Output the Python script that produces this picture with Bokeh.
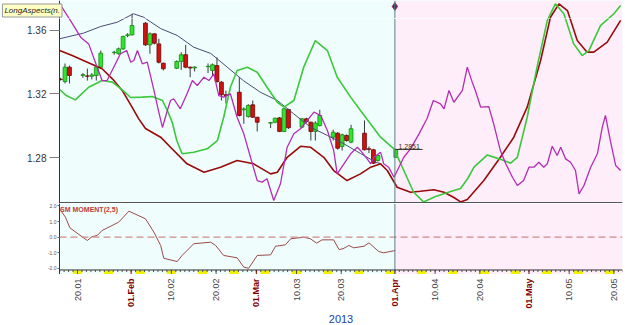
import math
import pandas as pd
from bokeh.plotting import figure
from bokeh.layouts import column
from bokeh.models import (Range1d, Span, BoxAnnotation, Label, FixedTicker,
                          ColumnDataSource, NumeralTickFormatter)
from bokeh.core.properties import value
from bokeh.embed import file_html
from bokeh.resources import INLINE

# ---------------- data ----------------
origin = "2013-01-20"   # day 0 of the day-offset arrays

candle_dates = ["2013-01-16", "2013-01-17", "2013-01-18", "2013-01-21", "2013-01-22", "2013-01-23",
                "2013-01-24", "2013-01-25", "2013-01-28", "2013-01-29", "2013-01-30", "2013-01-31",
                "2013-02-01", "2013-02-04", "2013-02-05", "2013-02-06", "2013-02-07", "2013-02-08",
                "2013-02-11", "2013-02-12", "2013-02-13", "2013-02-14", "2013-02-15", "2013-02-18",
                "2013-02-19", "2013-02-20", "2013-02-21", "2013-02-22", "2013-02-25", "2013-02-26",
                "2013-02-27", "2013-02-28", "2013-03-01", "2013-03-04", "2013-03-05", "2013-03-06",
                "2013-03-07", "2013-03-08", "2013-03-11", "2013-03-12", "2013-03-13", "2013-03-14",
                "2013-03-15", "2013-03-18", "2013-03-19", "2013-03-20", "2013-03-21", "2013-03-22",
                "2013-03-25", "2013-03-26", "2013-03-27", "2013-03-28", "2013-04-01"]
candle_open = [1.3292, 1.3277, 1.3367, 1.3315, 1.3312, 1.3310, 1.3315, 1.3367, 1.3458, 1.3451, 1.3482, 1.3565,
               1.3570, 1.3643, 1.3507, 1.3576, 1.3513, 1.3392, 1.3360, 1.3402, 1.3445, 1.3367, 1.3362, 1.3370,
               1.3346, 1.3377, 1.3273, 1.3194, 1.3210, 1.3100, 1.3058, 1.3131, 1.3053, 1.3016, 1.3022, 1.3049,
               1.2964, 1.3102, 1.2991, 1.3043, 1.3022, 1.2964, 1.3001, 1.2928, 1.2953, 1.2870, 1.2939, 1.2897,
               1.2953, 1.2855, 1.2849, 1.2782, 1.2802]
candle_high = [1.3300, 1.3390, 1.3377, 1.3330, 1.3358, 1.3330, 1.3370, 1.3471, 1.3470, 1.3490, 1.3565, 1.3580,
               1.3702, 1.3650, 1.3585, 1.3580, 1.3545, 1.3395, 1.3410, 1.3461, 1.3507, 1.3370, 1.3372, 1.3390,
               1.3390, 1.3429, 1.3280, 1.3220, 1.3304, 1.3115, 1.3135, 1.3158, 1.3055, 1.3022, 1.3050, 1.3055,
               1.3110, 1.3106, 1.3048, 1.3050, 1.3025, 1.3028, 1.3100, 1.2975, 1.2960, 1.2950, 1.2945, 1.3005,
               1.3033, 1.2870, 1.2855, 1.2820, 1.2855]
candle_low = [1.3283, 1.3265, 1.3265, 1.3300, 1.3283, 1.3290, 1.3283, 1.3357, 1.3445, 1.3445, 1.3475, 1.3555,
              1.3565, 1.3500, 1.3451, 1.3510, 1.3390, 1.3346, 1.3355, 1.3350, 1.3360, 1.3304, 1.3340, 1.3330,
              1.3315, 1.3270, 1.3158, 1.3139, 1.3058, 1.3012, 1.3050, 1.3050, 1.2964, 1.2985, 1.3015, 1.2960,
              1.2960, 1.2980, 1.2985, 1.3015, 1.2907, 1.2907, 1.2995, 1.2907, 1.2850, 1.2844, 1.2900, 1.2890,
              1.2845, 1.2828, 1.2760, 1.2775, 1.2798]
candle_close = [1.3290, 1.3367, 1.3315, 1.3320, 1.3310, 1.3318, 1.3367, 1.3455, 1.3461, 1.3482, 1.3559, 1.3570,
                1.3628, 1.3507, 1.3576, 1.3517, 1.3398, 1.3357, 1.3402, 1.3445, 1.3367, 1.3362, 1.3368, 1.3372,
                1.3382, 1.3277, 1.3194, 1.3190, 1.3064, 1.3105, 1.3127, 1.3053, 1.3022, 1.3020, 1.3047, 1.2964,
                1.3106, 1.2987, 1.3043, 1.3026, 1.2964, 1.3016, 1.3064, 1.2959, 1.2859, 1.2943, 1.2907, 1.2981,
                1.2849, 1.2852, 1.2765, 1.2813, 1.2851]

upper_day = [-4.0, 1.3, 5.2, 8.9, 12.5, 14.8, 18.6, 22.3, 26.0, 29.8, 33.5, 37.1, 40.9, 44.7, 48.3,
             52.1, 55.9, 59.5, 63.3, 66.7, 67.8]
upper_val = [1.3545, 1.3580, 1.3622, 1.3649, 1.3702, 1.3680, 1.3609, 1.3566, 1.3492, 1.3453, 1.3367,
             1.3283, 1.3210, 1.3158, 1.3076, 1.2991, 1.2939, 1.2888, 1.2826, 1.2771, 1.2763]

green_day = [-4.0, -2.5, -0.5, 2.5, 5.5, 7.8, 10.0, 11.9, 14.5, 16.7, 19.0, 20.1, 21.2, 22.2, 23.4, 26.0,
             29.0, 31.3, 32.7, 34.2, 35.7, 38.0, 40.2, 42.4, 44.7, 46.2, 48.4, 50.6, 53.2, 55.9, 58.1, 61.1,
             63.3, 67.8, 70.8, 73.0, 75.2, 77.4, 80.1, 83.5, 85.7, 87.3, 88.7, 91.7, 94.3, 96.9, 98.4, 100.6,
             102.8, 105.1, 106.9, 108.8, 111.0, 112.9, 114.4, 117.0, 120.0, 121.5]
green_val = [1.3227, 1.3189, 1.3162, 1.3241, 1.3283, 1.3273, 1.3225, 1.3177, 1.3179, 1.3183, 1.3158, 1.3095,
             1.3020, 1.2907, 1.2824, 1.2834, 1.2855, 1.2907, 1.3053, 1.3241, 1.3346, 1.3367, 1.3335, 1.3241,
             1.3147, 1.3116, 1.3158, 1.3367, 1.3534, 1.3471, 1.3304, 1.3179, 1.3095, 1.2928, 1.2855, 1.2719,
             1.2583, 1.2522, 1.2556, 1.2587, 1.2606, 1.2669, 1.2740, 1.2817, 1.2792, 1.2765, 1.2802, 1.3053,
             1.3367, 1.3660, 1.3764, 1.3702, 1.3513, 1.3440, 1.3471, 1.3628, 1.3702, 1.3754]

red_day = [-4.0, -1.2, 2.2, 5.5, 7.8, 10.0, 12.2, 13.7, 15.2, 18.6, 20.8, 24.5, 28.3, 32.0, 35.7, 39.4,
           43.2, 44.7, 46.9, 49.9, 52.1, 55.1, 57.3, 60.3, 63.3, 65.6, 67.8, 69.3, 71.5, 74.5, 76.7, 79.7,
           82.0, 84.2, 85.7, 87.2, 90.9, 94.6, 97.6, 100.6, 103.6, 105.8, 107.7, 109.6, 111.8, 114.0, 115.5,
           118.5, 121.5]
red_val = [1.3471, 1.3440, 1.3398, 1.3357, 1.3294, 1.3221, 1.3116, 1.3043, 1.2982, 1.2928, 1.2865, 1.2761,
           1.2708, 1.2740, 1.2782, 1.2761, 1.2698, 1.2708, 1.2802, 1.2871, 1.2865, 1.2802, 1.2719, 1.2656,
           1.2698, 1.2740, 1.2761, 1.2719, 1.2614, 1.2583, 1.2589, 1.2598, 1.2583, 1.2550, 1.2522, 1.2537,
           1.2656, 1.2802, 1.2928, 1.3116, 1.3409, 1.3680, 1.3764, 1.3722, 1.3534, 1.3461, 1.3461, 1.3524,
           1.3660]

magenta_day = [-4.0, -1.6, 0.7, 2.5, 4.4, 5.5, 6.6, 8.1, 9.6, 11.0,
               11.9, 12.6, 13.4, 14.5, 15.6, 17.1, 18.1, 19.0, 20.1, 20.8,
               21.5, 23.0, 24.5, 25.7, 26.8, 28.3, 29.4, 30.5, 31.6, 32.7,
               34.2, 35.7, 37.2, 38.7, 40.2, 41.3, 42.4, 43.9, 45.4, 46.9,
               48.4, 49.9, 51.4, 52.9, 54.4, 55.9, 57.3, 58.1, 59.6, 61.1,
               62.6, 63.3, 64.8, 65.6, 66.3, 67.8, 68.5, 69.6, 70.8, 71.9,
               73.0, 74.5, 76.4, 78.2, 79.6, 81.2, 82.0, 83.1, 84.2, 86.1,
               87.2, 88.3, 89.0, 90.2, 92.0, 93.1, 94.6, 95.8, 97.3, 98.4,
               99.8, 101.0, 102.1, 103.2, 104.3, 105.1, 106.2, 107.3, 108.1, 109.2,
               110.3, 111.4, 112.2, 113.3, 114.8, 116.3, 117.4, 118.1, 119.2, 120.4,
               121.5]
magenta_val = [1.3766, 1.3660, 1.3555, 1.3513, 1.3367, 1.3283, 1.3283, 1.3367, 1.3451, 1.3471,
               1.3398, 1.3409, 1.3471, 1.3388, 1.3398, 1.3221, 1.3095, 1.2989, 1.3095, 1.3158,
               1.3169, 1.3106, 1.3200, 1.3283, 1.3252, 1.3304, 1.3283, 1.3325, 1.3189, 1.3179,
               1.3200, 1.3053, 1.2949, 1.2802, 1.2656, 1.2646, 1.2667, 1.2531, 1.2636, 1.2865,
               1.2949, 1.2981, 1.3033, 1.3085, 1.3064, 1.2970, 1.2845, 1.2698, 1.2761, 1.2824,
               1.2865, 1.2845, 1.2792, 1.2761, 1.2802, 1.2834, 1.2761, 1.2740, 1.2677, 1.2740,
               1.2802, 1.2855, 1.2949, 1.3045, 1.3158, 1.3137, 1.3106, 1.3221, 1.3147, 1.3221,
               1.3367, 1.3273, 1.3221, 1.3116, 1.3120, 1.3012, 1.2844, 1.2761, 1.2677, 1.2625,
               1.2656, 1.2740, 1.2740, 1.2771, 1.2740, 1.2761, 1.2871, 1.2813, 1.2865, 1.2792,
               1.2771, 1.2719, 1.2573, 1.2625, 1.2740, 1.2824, 1.2991, 1.3064, 1.2907, 1.2750,
               1.2719]

mom_day = [-4.0, -2.7, -1.7, -0.1, 2.2, 3.3, 4.4, 5.5, 9.2, 11.5, 15.2, 17.1, 18.6, 19.3, 22.3, 23.4,
           26.0, 29.8, 30.9, 32.7, 35.7, 37.2, 38.3, 40.2, 43.2, 44.3, 46.5, 47.7, 50.6, 52.1, 53.5, 54.7,
           57.3, 58.5, 59.4, 60.7, 61.8, 64.1, 65.2, 67.4, 68.5, 71.1]
mom_val = [1.82, 1.28, 0.60, 0.26, -0.21, 0.04, 0.11, 0.43, 0.96, 1.67, 1.18, 0.32, -0.53, -1.35, -1.56,
           -1.17, -0.42, -0.32, -0.53, -1.17, -1.32, -1.92, -1.99, -1.17, -1.13, -0.58, -0.49, -0.10, 0.0,
           -0.10, -0.38, -0.17, -0.17, -0.79, -0.74, -0.53, -0.68, -0.58, -0.36, -0.92, -1.0, -0.85]

price_ticks = [1.28, 1.32, 1.36]
mom_ticks = [-2, -1, 0, 1, 2]
day_label_dates = ["2013-01-20", "2013-02-10", "2013-02-20", "2013-03-10", "2013-03-20",
                   "2013-04-10", "2013-04-20", "2013-05-10", "2013-05-20"]
month_label_dates = ["2013-02-01", "2013-03-01", "2013-04-01", "2013-05-01"]
split_date = "2013-04-01"
year_label = "2013"
caption = "LongAspects(n."
indicator_name = "SM MOMENT(2,5)"

# ---------------- helpers ----------------
DAY = 86400000.0
T0 = pd.Timestamp(origin)


def ms(ts):
    return pd.Timestamp(ts).value / 1e6


def days_to_ms(days):
    return [ms(T0) + d * DAY for d in days]


X_LEFT = ms(T0) - 4.03 * DAY          # left edge of the plotting area (price axis)
X_RIGHT = ms(T0) + 121.92 * DAY
x_range = Range1d(X_LEFT, X_RIGHT)
x_range_full = Range1d(ms(T0) - 17.23 * DAY, X_RIGHT)   # same scale, starting at the page edge

PX = 0.000627                    # price per pixel of the price panel
P_TOP = 1.3785
P_SPLIT = P_TOP - 18 * PX        # top strip holds the caption box
P_BOTTOM = P_TOP - 203 * PX

FONT = "Liberation Sans"
BG_LEFT = "#F0FDFD"
BG_RIGHT = "#FDEEFA"
VLINE = "#5E8088"


def base_fig(height, xr, y_range, left=59, **kw):
    f = figure(width=625, height=height, x_range=xr, y_range=y_range,
               x_axis_type="datetime", x_axis_location=None, output_backend="svg",
               toolbar_location=None, min_border_left=left, min_border_right=3,
               min_border_top=0, min_border_bottom=0, border_fill_color="white",
               outline_line_color=None, **kw)
    f.grid.visible = False
    return f


cx = [ms(d) + 0.2 * DAY for d in candle_dates]
up = [c >= o for o, c in zip(candle_open, candle_close)]
csrc = ColumnDataSource(dict(
    x=cx, high=candle_high, low=candle_low,
    top=[max(o, c) for o, c in zip(candle_open, candle_close)],
    bottom=[min(o, c) for o, c in zip(candle_open, candle_close)],
    fill=["#2FE62F" if u else "#D01212" for u in up],
    edge=["#138A13" if u else "#6E0000" for u in up],
))


def draw_price(f):
    f.add_layout(BoxAnnotation(left=ms(split_date), fill_color=BG_RIGHT, fill_alpha=1.0,
                               line_color=None, level="underlay"))
    f.segment(x0="x", y0="high", x1="x", y1="low", source=csrc, line_color="#3A3A3A", line_width=1)
    f.vbar(x="x", width=0.85 * DAY, top="top", bottom="bottom", source=csrc,
           fill_color="fill", line_color="edge", line_width=0.8)
    f.line(days_to_ms(upper_day), upper_val, line_color="#4B4B70", line_width=1)
    f.line(days_to_ms(red_day), red_val, line_color="#990A0A", line_width=1.6)
    f.line(days_to_ms(green_day), green_val, line_color="#3CC83C", line_width=1.6)
    f.line(days_to_ms(magenta_day), magenta_val, line_color="#B42DB4", line_width=1.3)
    f.add_layout(Span(location=ms(split_date), dimension="height", line_color=VLINE, line_width=1))
    f.scatter([ms(split_date)], [P_TOP - 6 * PX], marker="diamond", size=8, fill_color="#1A237E",
              line_color="#B03030", line_width=1)


# ---------------- caption strip (top of the price panel) ----------------
t = base_fig(18, x_range_full, Range1d(P_SPLIT, P_TOP), left=0,
             y_axis_location=None, background_fill_color=BG_LEFT)
t.frame_align = False
draw_price(t)
t.add_layout(BoxAnnotation(right=X_LEFT, fill_color="white", fill_alpha=1.0,
                           line_color=None, level="glyph"))
t.add_layout(Span(location=X_LEFT, dimension="height", line_color="#333333", line_width=1))
t.add_layout(Label(x=ms(T0) - 16.8 * DAY, y=P_TOP - 10 * PX, text=caption,
                   text_font=FONT, text_font_size="8px", text_font_style="italic",
                   text_color="#222222", text_baseline="middle", text_align="left",
                   background_fill_color="#FFFFC4", border_line_color="#999999", padding=2))

# ---------------- main price panel ----------------
p = base_fig(185, x_range, Range1d(P_BOTTOM, P_SPLIT), background_fill_color=BG_LEFT)
draw_price(p)
p.add_layout(Span(location=P_BOTTOM + 1 * PX, dimension="width", line_color="#555555", line_width=1))

last_x = ms(candle_dates[-1])
p.segment(x0=[last_x], y0=[candle_close[-1]], x1=[last_x + 6.2 * DAY], y1=[candle_close[-1]],
          line_color="#333333", line_width=1)
p.add_layout(Label(x=last_x + 0.8 * DAY, y=candle_close[-1] + 0.0006, text=f"{candle_close[-1]:.4f}",
                   text_font=FONT, text_font_size="7px", text_color="#333333",
                   text_baseline="bottom", text_align="left"))

p.yaxis.ticker = FixedTicker(ticks=price_ticks)
p.yaxis.formatter = NumeralTickFormatter(format="0.00")
p.yaxis.axis_line_color = "#333333"
p.yaxis.major_tick_out = 10
p.yaxis.major_tick_in = 0
p.yaxis.major_tick_line_color = "#808080"
p.yaxis.minor_tick_line_color = None
p.yaxis.major_label_standoff = 3
p.yaxis.major_label_text_font = FONT
p.yaxis.major_label_text_font_size = "10px"
p.yaxis.major_label_text_color = "#333333"

# ---------------- momentum panel ----------------
q = base_fig(71, x_range, Range1d(-2.39, 2.16), background_fill_color=BG_LEFT)
q.add_layout(BoxAnnotation(left=ms(split_date), fill_color=BG_RIGHT, fill_alpha=1.0,
                           line_color=None, level="underlay"))
q.add_layout(Span(location=0, dimension="width", line_color="#D08A8A", line_dash="7 4", line_width=1.2))
q.line(days_to_ms(mom_day), mom_val, line_color="#9A4A4A", line_width=1)
q.add_layout(Span(location=ms(split_date), dimension="height", line_color=VLINE, line_width=1))

# weekend markers, day ticks and axis line along the bottom
sundays = pd.date_range("2013-01-13", "2013-05-26", freq="W-SUN")
q.quad(left=[ms(s) - 1.05 * DAY for s in sundays], right=[ms(s) + 1.05 * DAY for s in sundays],
       bottom=-2.38, top=-2.14, fill_color="#F2F200", line_color=None)
all_days = pd.date_range("2013-01-15", "2013-05-22", freq="D")
q.segment(x0=[ms(d) for d in all_days], y0=-2.1, x1=[ms(d) for d in all_days], y1=-2.23,
          line_color="#555555", line_width=1)
q.segment(x0=[ms(d) for d in day_label_dates], y0=-2.1, x1=[ms(d) for d in day_label_dates], y1=-2.39,
          line_color="#555555", line_width=1)
q.segment(x0=[ms(d) for d in month_label_dates], y0=-2.1, x1=[ms(d) for d in month_label_dates], y1=-2.39,
          line_color="#800000", line_width=1)
q.add_layout(Span(location=-2.1, dimension="width", line_color="#333333", line_width=1))

q.add_layout(Label(x=ms(T0) - 3.9 * DAY, y=1.98, text=indicator_name, text_font=FONT,
                   text_font_size="7px", text_font_style="bold", text_color="#C03C3C",
                   text_baseline="top", text_align="left"))

q.yaxis.ticker = FixedTicker(ticks=mom_ticks)
q.yaxis.formatter = NumeralTickFormatter(format="0.0")
q.yaxis.axis_line_color = "#333333"
q.yaxis.major_tick_out = 2
q.yaxis.major_tick_in = 0
q.yaxis.major_tick_line_color = "#666666"
q.yaxis.minor_tick_line_color = None
q.yaxis.major_label_standoff = 1
q.yaxis.major_label_text_font = FONT
q.yaxis.major_label_text_font_size = "5px"
q.yaxis.major_label_text_color = "#555555"

# ---------------- date-label strip ----------------
r = base_fig(51, x_range, Range1d(0, 51), y_axis_location=None, background_fill_color="white")
r.text(x=[ms(d) for d in day_label_dates], y=[47] * len(day_label_dates),
       text=[pd.Timestamp(d).strftime("%d.%m") for d in day_label_dates],
       angle=math.pi / 2, text_align="right", text_baseline="middle",
       text_font=value(FONT), text_font_size="9px", text_color="#444444")
r.text(x=[ms(d) for d in month_label_dates], y=[47] * len(month_label_dates),
       text=[pd.Timestamp(d).strftime("%d.%b") for d in month_label_dates],
       angle=math.pi / 2, text_align="right", text_baseline="middle",
       text_font=value(FONT), text_font_size="9px", text_font_style="bold", text_color="#800000")
r.text(x=[(X_LEFT + X_RIGHT) / 2], y=[7], text=[year_label],
       text_align="center", text_baseline="middle",
       text_font=value(FONT), text_font_size="11px", text_color="#2040A0")

layout = column(t, p, q, r, spacing=0)
open("out.html", "w").write(file_html(layout, INLINE))
